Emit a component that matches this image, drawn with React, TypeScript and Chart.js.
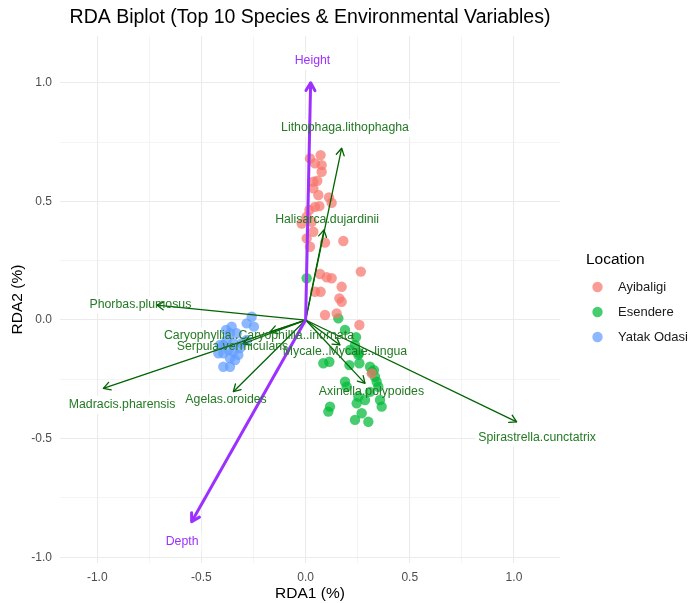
import React, { useEffect, useRef } from "react";
import { Chart, registerables } from "chart.js";

Chart.register(...registerables);

// ---------- data ----------
const locations = ["Ayibaligi", "Esendere", "Yatak Odasi"];
const locationColors = ["rgba(248,118,109,0.72)", "rgba(0,186,56,0.72)", "rgba(97,156,255,0.72)"];

const ayibaligiX = [0.021, 0.072, 0.045, 0.077, 0.077, 0.037, 0.056, 0.037, 0.061, 0.112, 0.125, 0.045, 0.066, 0.018, 0.005, -0.019, 0.029, 0.037, 0.005, 0.021, 0.093, 0.181, 0.069, 0.101, 0.125, 0.265, 0.173, 0.045, 0.072, 0.162, 0.173, 0.093, 0.149, 0.258, 0.317];
const ayibaligiY = [0.681, 0.695, 0.660, 0.653, 0.625, 0.583, 0.587, 0.555, 0.527, 0.517, 0.494, 0.477, 0.480, 0.464, 0.435, 0.407, 0.414, 0.372, 0.344, 0.309, 0.326, 0.333, 0.194, 0.180, 0.176, 0.204, 0.140, 0.119, 0.119, 0.091, 0.077, 0.021, 0.028, -0.021, -0.225];

const esendereX = [0.005, 0.157, 0.189, 0.242, 0.237, 0.256, 0.085, 0.114, 0.210, 0.258, 0.253, 0.213, 0.309, 0.319, 0.333, 0.341, 0.349, 0.189, 0.197, 0.253, 0.245, 0.285, 0.309, 0.357, 0.365, 0.117, 0.109, 0.237, 0.269, 0.301, 0.328];
const esendereY = [0.176, 0.007, -0.042, -0.072, -0.105, -0.139, -0.182, -0.176, -0.190, -0.182, -0.147, -0.126, -0.197, -0.219, -0.239, -0.260, -0.281, -0.260, -0.281, -0.323, -0.351, -0.337, -0.303, -0.337, -0.365, -0.365, -0.386, -0.421, -0.393, -0.429, -0.211];

const yatakX = [-0.259, -0.283, -0.248, -0.355, -0.363, -0.331, -0.395, -0.419, -0.395, -0.371, -0.347, -0.323, -0.363, -0.339, -0.395, -0.363, -0.307, -0.283, -0.379, -0.347, -0.411, -0.382, -0.315];
const yatakY = [0.014, -0.014, -0.028, -0.028, -0.056, -0.056, -0.105, -0.140, -0.140, -0.126, -0.134, -0.147, -0.161, -0.169, -0.197, -0.197, -0.098, -0.084, -0.084, -0.098, -0.105, -0.042, -0.118];

const speciesNames = ["Lithophaga.lithophagha", "Halisarca.dujardinii", "Phorbas.plumosus", "Madracis.pharensis", "Caryophyllia..Caryophillia..inornata", "Serpula.vermiculans", "Agelas.oroides", "Mycale..Mycale..lingua", "Axinella.polypoides", "Spirastrella.cunctatrix"];
const speciesX = [0.173, 0.088, -0.715, -0.971, -0.171, -0.30, -0.347, 0.165, 0.285, 1.013];
const speciesY = [0.724, 0.380, 0.063, -0.288, -0.050, -0.100, -0.302, -0.105, -0.267, -0.429];
const speciesLabelX = [0.189, 0.103, -0.793, -0.881, -0.224, -0.351, -0.382, 0.189, 0.316, 1.111];
const speciesLabelY = [0.809, 0.424, 0.066, -0.358, -0.067, -0.110, -0.337, -0.134, -0.302, -0.494];

const envNames = ["Height", "Depth"];
const envX = [0.024, -0.547];
const envY = [1.0, -0.85];
const envLabelX = [0.033, -0.593];
const envLabelY = [1.092, -0.934];

const xMin = -1.179, xMax = 1.221;
const yMin = -1.024, yMax = 1.197;
const tickStep = 0.25;

const titleText = "RDA Biplot (Top 10 Species & Environmental Variables)";
const xTitle = "RDA1 (%)";
const yTitle = "RDA2 (%)";
const legendTitle = "Location";

const SPECIES_COLOR = "#006400";
const SPECIES_TEXT = "#237a23";
const ENV_COLOR = "#9B30FF";
const FONT = "'Liberation Sans', Arial, sans-serif";
const LABEL_FONT = `12.3px ${FONT}`;

const isMajor = (v: number) => Math.abs(v * 2 - Math.round(v * 2)) < 1e-6;

export default function App() {
  const ref = useRef<HTMLCanvasElement | null>(null);

  useEffect(() => {
    if (!ref.current) return;
    const pts = (xs: number[], ys: number[]) => xs.map((x, i) => ({ x, y: ys[i] }));
    const pointSets = [pts(ayibaligiX, ayibaligiY), pts(esendereX, esendereY), pts(yatakX, yatakY)];

    const datasets: any[] = [];
    pointSets.forEach((d, i) => {
      datasets.push({
        type: "scatter",
        label: locations[i],
        data: d,
        backgroundColor: locationColors[i],
        borderWidth: 0,
        pointRadius: 5.2,
        order: 3,
      });
    });
    speciesNames.forEach((n, i) => {
      datasets.push({
        type: "line",
        label: n,
        data: [{ x: 0, y: 0 }, { x: speciesX[i], y: speciesY[i] }],
        borderColor: SPECIES_COLOR,
        borderWidth: 1.3,
        pointRadius: 0,
        fill: false,
        order: 2,
        arrowKind: "species",
      });
    });
    envNames.forEach((n, i) => {
      datasets.push({
        type: "line",
        label: n,
        data: [{ x: 0, y: 0 }, { x: envX[i], y: envY[i] }],
        borderColor: ENV_COLOR,
        borderWidth: 3,
        pointRadius: 0,
        fill: false,
        order: 1,
        arrowKind: "env",
      });
    });

    const allLabels = () => {
      const out: { text: string; x: number; y: number; color: string }[] = [];
      speciesNames.forEach((n, i) => out.push({ text: n, x: speciesLabelX[i], y: speciesLabelY[i], color: SPECIES_TEXT }));
      envNames.forEach((n, i) => out.push({ text: n, x: envLabelX[i], y: envLabelY[i], color: ENV_COLOR }));
      return out;
    };

    const biplotPlugin = {
      id: "biplot",
      beforeDatasetsDraw(chart: any) {
        const ctx: CanvasRenderingContext2D = chart.ctx;
        const xs = chart.scales.x, ys = chart.scales.y;
        ctx.save();
        ctx.font = LABEL_FONT;
        ctx.fillStyle = "#ffffff";
        allLabels().forEach((l) => {
          const px = xs.getPixelForValue(l.x), py = ys.getPixelForValue(l.y);
          const w = ctx.measureText(l.text).width;
          ctx.fillRect(px - w / 2 - 3, py - 9, w + 6, 18);
        });
        ctx.restore();
      },
      afterDatasetsDraw(chart: any) {
        const ctx: CanvasRenderingContext2D = chart.ctx;
        const xs = chart.scales.x, ys = chart.scales.y;
        ctx.save();
        // arrowheads
        chart.data.datasets.forEach((ds: any, di: number) => {
          if (!ds.arrowKind) return;
          const meta = chart.getDatasetMeta(di);
          const p0 = meta.data[0], p1 = meta.data[1];
          const ang = Math.atan2(p1.y - p0.y, p1.x - p0.x);
          const L = ds.arrowKind === "env" ? 9 : 8;
          const a = Math.PI / 6;
          ctx.strokeStyle = ds.borderColor;
          ctx.lineWidth = ds.borderWidth;
          ctx.lineCap = "round";
          ctx.lineJoin = "round";
          ctx.beginPath();
          ctx.moveTo(p1.x - L * Math.cos(ang - a), p1.y - L * Math.sin(ang - a));
          ctx.lineTo(p1.x, p1.y);
          ctx.lineTo(p1.x - L * Math.cos(ang + a), p1.y - L * Math.sin(ang + a));
          ctx.stroke();
        });
        // label text
        ctx.font = LABEL_FONT;
        ctx.textAlign = "center";
        ctx.textBaseline = "middle";
        allLabels().forEach((l) => {
          ctx.fillStyle = l.color;
          ctx.fillText(l.text, xs.getPixelForValue(l.x), ys.getPixelForValue(l.y));
        });
        ctx.restore();
      },
      afterDraw(chart: any) {
        const ctx: CanvasRenderingContext2D = chart.ctx;
        const ca = chart.chartArea;
        ctx.save();
        ctx.fillStyle = "#000";
        ctx.textAlign = "center";
        ctx.textBaseline = "middle";
        ctx.font = `19.5px ${FONT}`;
        ctx.fillText(titleText, (ca.left + ca.right) / 2, 18);
        ctx.font = `15.5px ${FONT}`;
        ctx.fillText(xTitle, (ca.left + ca.right) / 2, 594);
        ctx.save();
        ctx.translate(18, (ca.top + ca.bottom) / 2);
        ctx.rotate(-Math.PI / 2);
        ctx.fillText(yTitle, 0, 0);
        ctx.restore();
        // legend
        ctx.textAlign = "left";
        ctx.font = `15.5px ${FONT}`;
        ctx.fillText(legendTitle, 586, 260);
        ctx.font = `13px ${FONT}`;
        locations.forEach((loc, i) => {
          const y = 287 + i * 25;
          ctx.fillStyle = locationColors[i];
          ctx.beginPath();
          ctx.arc(597.5, y, 5.2, 0, Math.PI * 2);
          ctx.fill();
          ctx.fillStyle = "#1a1a1a";
          ctx.fillText(loc, 618, y);
        });
        ctx.restore();
      },
    };

    const gridColor = (c: any) => (c.tick && isMajor(c.tick.value) ? "#EBEBEB" : "#F1F1F1");
    const gridWidth = (c: any) => (c.tick && isMajor(c.tick.value) ? 1.1 : 0.8);
    const tickCb = (v: any) => (isMajor(Number(v)) ? Number(v).toFixed(1) : "");

    const chart = new Chart(ref.current, {
      type: "scatter",
      data: { datasets },
      options: {
        animation: false,
        responsive: false,
        events: [],
        layout: { padding: { top: 36, right: 130, bottom: 0, left: 0 } },
        plugins: { legend: { display: false }, tooltip: { enabled: false }, title: { display: false } },
        scales: {
          x: {
            type: "linear",
            min: xMin,
            max: xMax,
            afterFit: (s: any) => { s.height = 40; },
            border: { display: false },
            grid: { color: gridColor, lineWidth: gridWidth, drawTicks: false },
            ticks: { stepSize: tickStep, includeBounds: false, autoSkip: false, maxRotation: 0, padding: 7, color: "#4D4D4D", font: { family: FONT, size: 12 }, callback: tickCb },
          },
          y: {
            type: "linear",
            min: yMin,
            max: yMax,
            afterFit: (s: any) => { s.width = 60; },
            border: { display: false },
            grid: { color: gridColor, lineWidth: gridWidth, drawTicks: false },
            ticks: { stepSize: tickStep, includeBounds: false, autoSkip: false, padding: 8, color: "#4D4D4D", font: { family: FONT, size: 12 }, callback: tickCb },
          },
        },
      } as any,
      plugins: [biplotPlugin],
    });
    return () => chart.destroy();
  }, []);

  return (
    <div style={{ position: "fixed", left: 0, top: 0, width: 690, height: 603, background: "#fff" }}>
      <canvas ref={ref} width={690} height={603} style={{ display: "block" }} />
    </div>
  );
}
